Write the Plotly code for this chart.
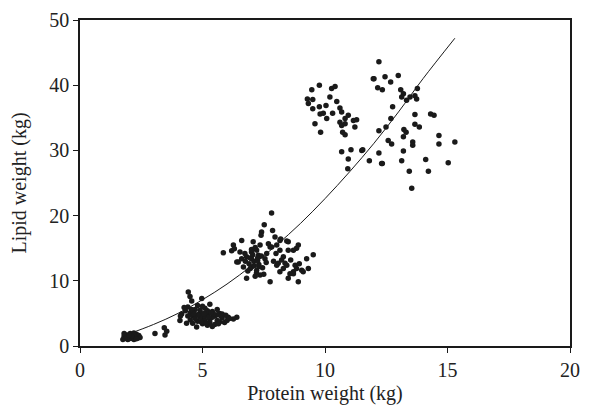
import plotly.graph_objects as go

# Fitted curve
curve_x = [1.95, 3.0, 4.0, 5.0, 6.0, 7.0, 8.0, 9.0, 10.0, 11.0, 12.0, 13.0, 14.0, 15.3]
curve_y = [1.8, 3.3, 5.0, 7.1, 9.5, 12.3, 15.4, 18.8, 22.6, 26.7, 31.1, 35.9, 41.0, 47.2]

# Cluster readings (protein kg, lipid kg)
c1_x = [1.75, 1.8, 1.85, 1.9, 1.95, 2.0, 2.05, 2.1, 2.15, 2.2, 2.25, 2.3, 2.35, 2.4, 1.8, 2.0, 2.2, 2.1, 1.9, 2.45, 2.3, 2.0]
c1_y = [1.0, 1.5, 1.2, 1.7, 1.0, 1.4, 1.9, 1.2, 1.6, 1.0, 1.4, 1.8, 1.2, 1.6, 1.9, 1.1, 2.0, 1.5, 1.3, 1.3, 1.1, 1.7]

c2_x = [3.06, 3.44, 3.54, 3.47]
c2_y = [1.9, 2.8, 2.25, 1.7]

c3_x = [4.42, 4.49, 4.56, 4.97, 4.08, 4.15, 4.76, 6.4, 6.26, 6.05,
        4.3, 4.4, 4.5, 4.6, 4.7, 4.8, 4.9, 5.0, 5.1, 5.2,
        5.3, 5.4, 5.5, 5.6, 5.7, 5.8, 5.9, 4.5, 4.6, 4.8,
        4.9, 5.0, 5.1, 5.2, 5.3, 5.4, 5.5, 5.6, 5.7, 5.8,
        4.7, 4.9, 5.0, 5.2, 5.3, 5.4, 5.1, 4.8, 5.6, 6.0,
        4.4, 4.65, 5.25, 5.45, 5.05, 4.95, 5.35, 5.75, 4.55, 5.15,
        4.1, 4.25, 4.35, 5.95, 6.1, 5.65]
c3_y = [8.3, 7.6, 6.9, 7.3, 3.9, 4.9, 2.9, 4.4, 4.15, 4.4,
        5.4, 6.0, 5.1, 4.6, 5.6, 6.2, 5.0, 4.3, 5.8, 4.9,
        4.1, 5.3, 4.6, 3.9, 5.0, 4.3, 3.6, 4.0, 3.5, 3.8,
        4.4, 3.4, 3.9, 3.2, 3.6, 4.4, 3.3, 4.8, 3.7, 4.9,
        4.2, 5.5, 6.1, 5.4, 6.4, 3.0, 4.6, 4.8, 5.6, 3.9,
        4.6, 5.0, 4.4, 4.9, 5.0, 3.7, 5.1, 4.6, 5.6, 3.5,
        4.6, 5.9, 3.5, 4.7, 4.2, 3.4]

c4_x = [7.82, 7.52, 7.86, 7.41, 7.39, 7.96, 5.85, 6.26, 6.19, 6.6,
        7.07, 8.16, 8.5, 8.91, 9.52, 9.25, 9.32, 8.91, 7.76, 6.8,
        6.46, 6.8, 7.0, 7.21, 7.35, 8.3, 8.44, 8.71, 9.05, 8.16,
        7.76, 7.62, 7.21, 7.0, 8.03, 8.16, 8.5, 6.53, 6.67, 7.35,
        7.69, 8.03, 6.4, 6.73, 7.0, 7.28, 7.55, 8.19, 8.44, 7.82,
        8.84, 8.71, 8.5, 8.23, 8.37, 8.09, 8.3, 8.78, 8.84, 9.11,
        8.57, 8.71, 6.9, 7.1, 7.2, 7.3, 7.45, 7.5, 6.95, 7.15,
        7.25, 7.4, 7.05, 6.85, 7.6, 8.0, 8.6, 8.95, 6.3, 7.9,
        6.95, 7.1, 7.25, 7.0, 7.15, 6.75, 7.3, 6.6]
c4_y = [20.4, 18.6, 17.7, 17.5, 17.0, 16.7, 14.3, 15.5, 14.6, 16.2,
        16.0, 16.2, 16.0, 15.5, 14.0, 13.4, 11.9, 9.85, 9.85, 10.4,
        12.9, 13.7, 12.1, 11.6, 10.9, 13.7, 12.4, 11.4, 11.6, 14.7,
        15.2, 14.2, 14.7, 13.4, 12.4, 11.4, 10.4, 14.4, 12.1, 15.5,
        15.7, 15.5, 12.9, 14.2, 14.4, 13.9, 13.4, 16.4, 16.1, 15.2,
        15.0, 14.7, 14.7, 13.2, 12.7, 12.7, 11.9, 12.4, 11.9, 11.4,
        11.1, 11.1, 12.6, 13.0, 11.2, 12.5, 12.0, 11.0, 13.5, 10.7,
        13.1, 13.8, 14.0, 11.5, 12.8, 14.2, 13.2, 12.6, 14.9, 13.0,
        11.9, 12.3, 13.5, 14.8, 15.1, 13.0, 12.2, 13.4]

c5_x = [9.46, 9.77, 10.27, 10.41, 9.28, 9.32, 9.5, 9.5, 9.77, 10.04,
        10.2, 10.48, 9.8, 9.93, 10.07, 10.31, 10.61, 10.68, 10.95, 11.29,
        11.16, 10.82, 10.61, 10.68, 10.82, 11.22, 9.59, 10.72, 10.82, 9.82,
        10.68, 11.06, 11.5, 10.95, 10.93]
c5_y = [39.3, 40.0, 39.5, 39.8, 37.9, 37.2, 37.8, 36.4, 36.7, 36.9,
        38.2, 37.5, 35.6, 35.7, 34.9, 35.7, 36.5, 35.9, 35.4, 34.7,
        34.6, 34.9, 34.3, 33.8, 34.1, 33.6, 34.1, 32.8, 32.4, 32.8,
        29.8, 30.1, 30.0, 28.7, 27.2]

c6_x = [12.2, 12.0, 12.45, 12.68, 12.99, 12.15, 12.34, 13.09, 13.2, 13.13,
        13.33, 13.47, 13.67, 13.77, 13.74, 12.76, 12.69, 12.2, 12.49, 13.67,
        14.31, 14.45, 13.67, 13.85, 13.22, 13.31, 13.2, 12.58, 12.72, 13.58,
        13.58, 14.65, 14.65, 15.3, 11.54, 12.2, 13.2, 11.81, 12.34, 13.13,
        14.11, 15.03, 13.44, 14.22, 13.54, 12.31, 11.97]
c6_y = [43.6, 41.0, 41.3, 40.5, 41.5, 39.6, 39.3, 39.3, 38.7, 38.2,
        37.7, 38.2, 38.4, 39.5, 37.9, 36.7, 34.9, 33.0, 33.6, 35.5,
        35.6, 35.4, 34.0, 33.6, 33.2, 32.8, 32.1, 31.5, 31.0, 31.3,
        30.8, 32.3, 31.0, 31.3, 30.1, 29.6, 29.9, 28.4, 28.0, 28.4,
        28.6, 28.1, 26.8, 26.8, 24.2, 28.0, 41.0]

protein = c1_x + c2_x + c3_x + c4_x + c5_x + c6_x
lipid = c1_y + c2_y + c3_y + c4_y + c5_y + c6_y

font_family = "Liberation Serif"

fig = go.Figure()
fig.add_trace(go.Scatter(x=protein, y=lipid, mode="markers",
                         marker=dict(color="#1a1a1a", size=5.5, line=dict(width=0)),
                         showlegend=False))
fig.add_trace(go.Scatter(x=curve_x, y=curve_y, mode="lines", line_shape="spline",
                         line=dict(color="#1a1a1a", width=1), showlegend=False))

axis_common = dict(showgrid=False, zeroline=False, showline=True, linecolor="#1a1a1a",
                   linewidth=1.5, mirror=True, ticks="outside", ticklen=5, tickwidth=1.2,
                   tickcolor="#1a1a1a", tickfont=dict(family=font_family, size=20, color="#222"))

fig.update_layout(
    width=595, height=399,
    margin=dict(l=72, r=33, t=12, b=61, autoexpand=False),
    plot_bgcolor="white", paper_bgcolor="white",
    font=dict(family=font_family, size=20, color="#222"),
    xaxis=dict(range=[0, 20], tickvals=[0, 5, 10, 15, 20],
               title=dict(text="Protein weight (kg)", font=dict(family=font_family, size=20), standoff=6),
               **axis_common),
    yaxis=dict(range=[0, 50], tickvals=[0, 10, 20, 30, 40, 50],
               title=dict(text="Lipid weight (kg)", font=dict(family=font_family, size=20), standoff=19),
               **axis_common),
)

fig.write_html("out.html")
